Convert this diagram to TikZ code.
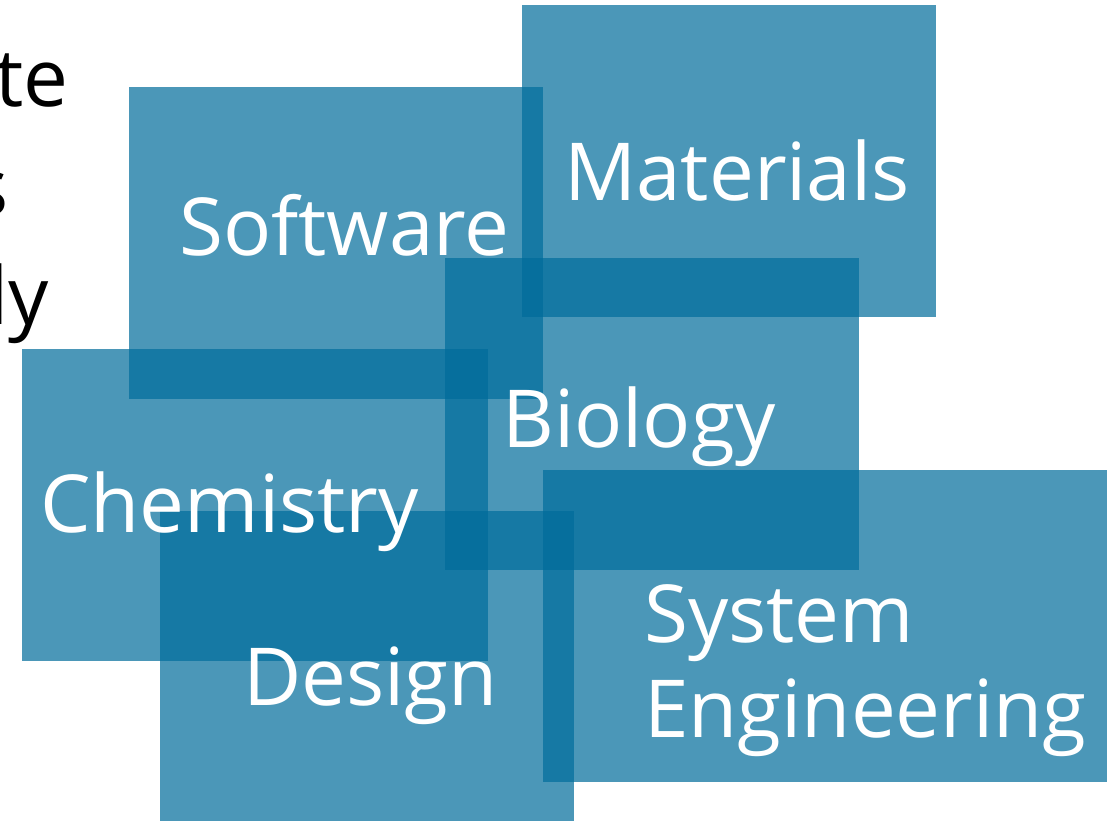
\documentclass[tikz,border=0pt]{standalone}
\usepackage{fontspec}
\setmainfont{Open Sans}
\definecolor{tile}{RGB}{0,108,155}
\tikzset{
  tilebox/.style={fill=tile, fill opacity=0.707, draw=none},
  whitelabel/.style={text=white, font=\fontsize{80}{95}\selectfont, inner sep=0pt, anchor=base west},
  blacklabel/.style={text=black, font=\fontsize{80}{100}\selectfont, inner sep=0pt, anchor=base east}
}
\begin{document}
\begin{tikzpicture}[x=1pt,y=-1pt]
\useasboundingbox (0,0) rectangle (1107,820);
\clip (0,0) rectangle (1107,820);
% left paragraph text, cut off by the frame
\node[blacklabel] (t1) at (69,106) {te};
\node[blacklabel] (t2) at (9,215) {s};
\node[blacklabel] (t3) at (49,324) {ly};
% tiles
\fill[tilebox] (522,5) rectangle (936,317);
\fill[tilebox] (129,87) rectangle (543,399);
\fill[tilebox] (445,258) rectangle (859,570);
\fill[tilebox] (22,349) rectangle (488,661);
\fill[tilebox] (160,511) rectangle (574,823);
\fill[tilebox] (543,470) rectangle (1120,782);
% labels
\node[whitelabel] (mat) at (564,200) {Materials};
\node[whitelabel] (soft) at (179,255) {Software};
\node[whitelabel] (bio) at (502,447) {Biology};
\node[whitelabel] (chem) at (40,532) {Chemistry};
\node[whitelabel] (des) at (243,705) {Design};
\node[whitelabel] (sys) at (644,642) {System};
\node[whitelabel] (eng) at (644,737) {Engineering};
\end{tikzpicture}
\end{document}
